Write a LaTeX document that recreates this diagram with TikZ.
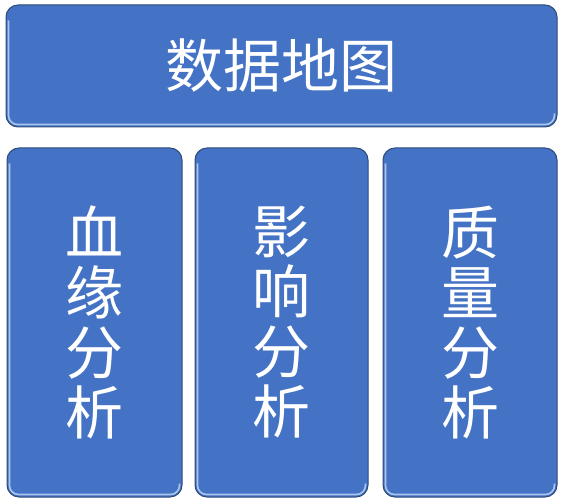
\documentclass[tikz,border=0pt]{standalone}
\usepackage{fontspec}
\newfontfamily\cjk{Noto Sans CJK SC}
\definecolor{boxblue}{HTML}{4472C4}
\definecolor{boxedge}{HTML}{2E4A78}
\definecolor{bevel}{HTML}{A9C6EC}
\tikzset{
  panel/.style={draw=boxedge, line width=1pt, fill=boxblue, rounded corners=12pt, inner sep=0pt},
  paneltext/.style={text=white, font=\cjk\fontsize{58}{60}\selectfont, align=center},
  hl/.style={draw=bevel, line width=1.6pt, rounded corners=9pt}
}
\newcommand\bevelline[1]{%
  \draw[hl] ([xshift=3pt,yshift=-16pt]#1.north west) -- ([xshift=3pt,yshift=3pt]#1.south west) -- ([xshift=-3pt,yshift=3pt]#1.south east) -- ([xshift=-3pt,yshift=14pt]#1.south east);}
\begin{document}
\begin{tikzpicture}[x=1pt,y=-1pt]
\useasboundingbox (0,0) rectangle (565,500);
\node[panel, minimum width=551pt, minimum height=122pt] (top) at (281.5,66) {};
\node[panel, minimum width=175pt, minimum height=349pt] (b1) at (94.5,322.5) {};
\node[panel, minimum width=173pt, minimum height=349pt] (b2) at (281.5,322.5) {};
\node[panel, minimum width=174pt, minimum height=349pt] (b3) at (470,322.5) {};
\bevelline{top}
\bevelline{b1}
\bevelline{b2}
\bevelline{b3}
\node[text=white, font=\cjk\fontsize{58}{60}\selectfont] (t) at (top.center) {数据地图};
\node[paneltext] (l1) at (b1.center) {血\\缘\\分\\析};
\node[paneltext] (l2) at (b2.center) {影\\响\\分\\析};
\node[paneltext] (l3) at (b3.center) {质\\量\\分\\析};
\end{tikzpicture}
\end{document}
